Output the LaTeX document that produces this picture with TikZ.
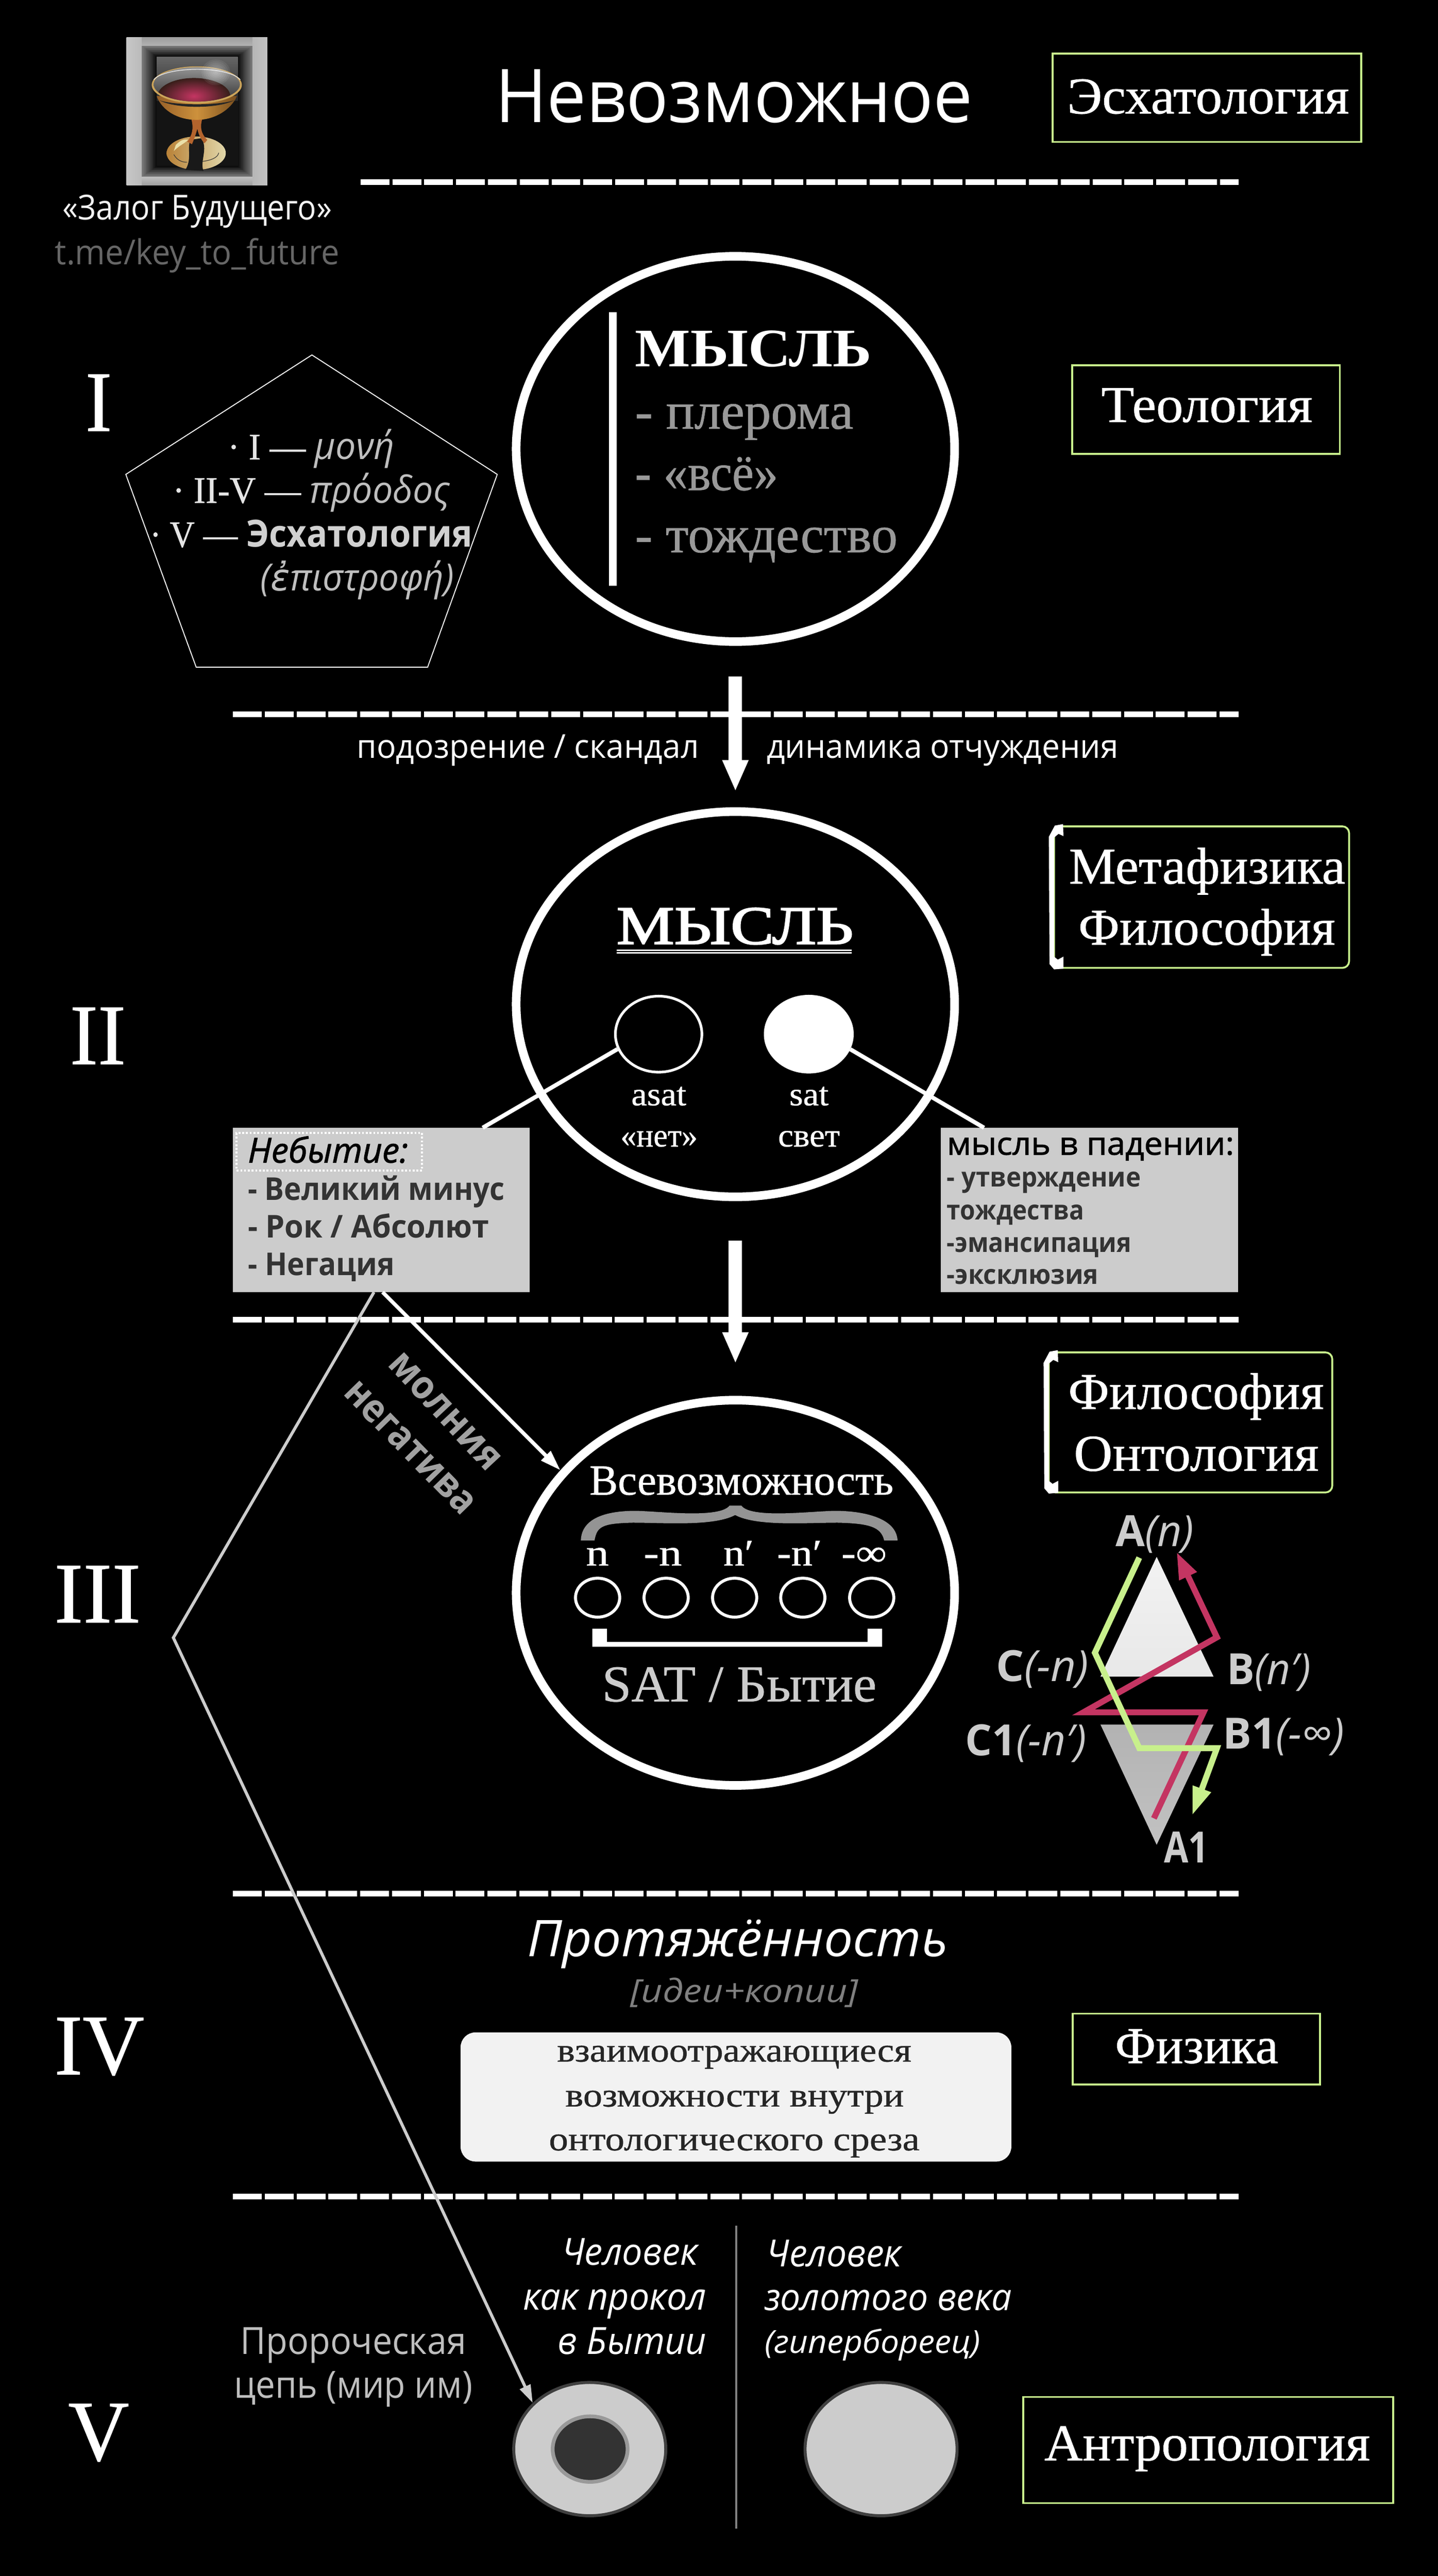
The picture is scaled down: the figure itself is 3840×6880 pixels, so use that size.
\documentclass[tikz,border=0pt]{standalone}
\usepackage{fontspec}
\usepackage{graphicx}
\usetikzlibrary{arrows.meta,shapes.geometric,calc}
\setmainfont[FakeBold=0.7,BoldFeatures={FakeBold=0}]{Liberation Serif}
\setsansfont{Open Sans}
\newfontfamily\semib[FakeBold=1.6]{Open Sans}
\newfontfamily\grk{DejaVu Sans}
\newfontfamily\serifheavy[FakeBold=2.2]{Liberation Serif}
\definecolor{lime}{HTML}{C8F08C}
\definecolor{wine}{HTML}{C43562}
\definecolor{panel}{HTML}{CCCCCC}
\definecolor{inkd}{HTML}{333333}
\newsavebox\fitbox
\newcommand{\fitw}[2]{\sbox\fitbox{#2}\pgfmathsetmacro\fitr{#1/\the\wd\fitbox}\scalebox{\fitr}[1]{\usebox\fitbox}}
\newcommand{\SE}[1]{\rmfamily\fontsize{#1}{#1}\selectfont}
\newcommand{\SA}[1]{\sffamily\fontsize{#1}{#1}\selectfont}
\newcommand{\SB}[1]{\semib\fontsize{#1}{#1}\selectfont}
\newcommand{\lbl}[6][]{\node[lab,#1] (#2) at (#3,#4) {\fitw{#5}{#6}};}
\newcommand{\wbracket}[3]{\fill[white] (#1,#2+30) -- (#1+16,#2) -- (#1+38,#2-4) -- (#1+39,#2+28) -- (#1+26,#2+22) -- (#1+14,#2+32) -- (#1+14,#3-30) -- (#1+24,#3-22) -- (#1+39,#3-30) -- (#1+39,#3+2) -- (#1+14,#3+4) -- (#1+2,#3-10) -- cycle;}
\tikzset{
  lab/.style={anchor=base west,inner sep=0pt,outer sep=0pt,text=white},
  bigell/.style={ellipse,draw=white,line width=23pt,inner sep=0pt,minimum width=1171pt,minimum height=1029pt},
  subj/.style={draw=lime,line width=5pt,anchor=north west,inner sep=0pt,outer sep=0pt},
  subjr/.style={subj,rounded corners=18pt},
  panelbox/.style={fill=panel,anchor=north west,inner sep=0pt,outer sep=0pt},
  dashln/.style={white,line width=15pt,dash pattern=on 77pt off 8pt},
  down/.style={white,line width=36pt,-{Triangle[length=84pt,width=64pt]}},
  stalk/.style={white,line width=11pt},
  tiny/.style={ellipse,draw=white,line width=8pt,inner sep=0pt,minimum width=118pt,minimum height=104pt},
  human/.style={ellipse,fill=panel,draw=black!75,line width=8pt,inner sep=0pt,minimum width=406pt,minimum height=356pt},
}
\begin{document}
\begin{tikzpicture}[x=1pt,y=-1pt]
\useasboundingbox (0,0) rectangle (3840,6880);
\fill[black] (0,0) rectangle (3840,6880);
% goblet picture
\shade[left color=black!22,right color=black!24,middle color=black!45] (338,100) rectangle (714,495);
\shade[top color=black!38,bottom color=black!30] (379,100) rectangle (674,122);
\shade[top color=black!25,bottom color=black!38] (379,472) rectangle (674,495);
\begin{scope}[shift={(250,50)},x=0.5102pt,y=-0.4591pt]
\foreach \i in {0,...,15}{
  \pgfmathsetmacro\gv{52+\i*2.95}
  \fill[black!\gv] ({252+\i*5},{158+\i*4}) rectangle ({832-\i*5},{920-\i*4});
}
\shade[top color=black!60,bottom color=black!92] (330,222) rectangle (755,560);
\fill[black!92] (330,480) rectangle (755,856);
% foot
\shade[left color={rgb,255:red,185;green,130;blue,55},right color={rgb,255:red,225;green,215;blue,170}] (537,782) ellipse [x radius=155,y radius=97];
\fill[color={rgb,255:red,235;green,225;blue,170}] (430,735) .. controls (460,700) and (480,700) .. (495,705) .. controls (470,730) and (445,740) .. (420,770) -- cycle;
\fill[black!90] (505,705) .. controls (490,760) and (515,820) .. (480,880) -- (575,885) .. controls (555,830) and (600,760) .. (565,695) -- cycle;
\draw[black!80,line width=1.5pt] (420,790) .. controls (440,830) and (470,835) .. (490,835);
\draw[black!80,line width=1.5pt] (570,830) .. controls (610,825) and (650,810) .. (655,780);
% stem
\fill[color={rgb,255:red,180;green,100;blue,45}] (512,585) .. controls (525,640) and (515,680) .. (490,715) -- (515,730) .. controls (530,690) and (538,660) .. (543,640) .. controls (550,680) and (565,705) .. (580,725) -- (595,705) .. controls (555,660) and (560,620) .. (568,585) -- cycle;
% bowl
\shade[left color={rgb,255:red,150;green,95;blue,40},right color={rgb,255:red,120;green,78;blue,30},middle color={rgb,255:red,205;green,145;blue,60}] (330,450) .. controls (360,540) and (450,590) .. (540,588) .. controls (630,590) and (720,530) .. (750,450) -- cycle;
\fill[black!85] (345,475) .. controls (430,525) and (650,525) .. (735,475) .. controls (650,505) and (430,505) .. (345,475) -- cycle;
% rim
\fill[color={rgb,255:red,205;green,165;blue,90}] (540,385) ellipse [x radius=236,y radius=108];
\shade[top color=black!42,bottom color=black!80] (540,382) ellipse [x radius=226,y radius=100];
\begin{scope}
\clip (540,382) ellipse [x radius=226,y radius=100];
\shade[inner color=wine,outer color={rgb,255:red,55;green,30;blue,25}] (525,450) ellipse [x radius=190,y radius=105];
\end{scope}
\draw[black!10,line width=2pt] (315,355) .. controls (370,278) and (700,270) .. (768,355);
\foreach \i in {1,...,8}{\fill[white,opacity=.07] (640,312) circle [radius=85-\i*10];}
\end{scope}
% title
\lbl{title}{1323}{327}{1275}{\SA{198}Невозможное}
\coordinate (d1a) at (963,487); \coordinate (d1b) at (3308,487);
\draw[dashln] (d1a) -- (d1b);
\node[subj,minimum width=824pt,minimum height=236pt] (bxesch) at (2811,143) {};
\lbl{tesch}{2850}{303}{753}{\SE{138}Эсхатология}
\lbl{zalog}{167}{587}{720}{\SA{92}\color{black!5}«Залог Будущего»}
\lbl{link}{147}{706}{760}{\SA{92}\color{black!60}t.me/key\_to\_future}
% Level I
\lbl{numI}{228}{1151}{71}{\SE{230}I}
\draw[white,line width=2.5pt,line join=miter] (833,948) -- (1328,1267) -- (1142,1782) -- (524,1782) -- (336,1267) -- cycle;
\lbl{pa}{608}{1227}{446}{\SE{100}\color{black!10}· I — \textcolor{black!25}{\SA{100}\itshape μονή}}
\lbl{pb}{461}{1343}{740}{\SE{100}\color{black!10}· II-V — \textcolor{black!25}{\SA{100}\itshape πρόοδος}}
\lbl{pc}{400}{1461}{862}{\SE{100}\color{black!10}· V — \textcolor{black!18}{\SA{100}\bfseries Эсхатология}}
\lbl{pd}{696}{1578}{517}{\SA{100}\itshape\color{black!25}({\grk ἐ}πιστροφή)}
\node[bigell] (e1) at (1964,1199) {};
\fill[white] (1627,834) rectangle (1647,1564);
\lbl{m1}{1696}{979}{632}{\SE{145}\bfseries МЫСЛЬ}
\lbl{m1a}{1696}{1145}{583}{\SE{140}\color{black!40}- плерома}
\lbl{m1b}{1696}{1309}{382}{\SE{140}\color{black!40}- «всё»}
\lbl{m1c}{1696}{1475}{701}{\SE{140}\color{black!40}- тождество}
\node[subj,minimum width=715pt,minimum height=236pt] (bxteo) at (2863,976) {};
\lbl{tteo}{2941}{1127}{564}{\SE{138}Теология}
\coordinate (d2a) at (622,1908); \coordinate (d2b) at (3308,1908);
\draw[dashln] (d2a) -- (d2b);
\lbl{susp}{953}{2025}{914}{\SA{88}подозрение / скандал}
\lbl{dyn}{2048}{2025}{939}{\SA{88}динамика отчуждения}
% Level II
\lbl{numII}{187}{2842}{149}{\SE{230}II}
\node[bigell] (e2) at (1964,2682) {};
\draw[down,shorten <=81pt,shorten >=42pt] (e1.south) -- (e2.north);
\lbl{m2}{1647}{2521}{632}{\serifheavy\fontsize{145}{145}\selectfont МЫСЛЬ}
\draw[white,line width=3pt] (1647,2538) -- (2274,2538);
\draw[white,line width=3pt] (1647,2545) -- (2274,2545);
\node[ellipse,draw=white,line width=7pt,inner sep=0pt,minimum width=231pt,minimum height=203pt] (asat) at (1759,2762) {};
\node[ellipse,fill=white,draw=white,line width=7pt,inner sep=0pt,minimum width=233pt,minimum height=203pt] (sat) at (2160,2762) {};
\lbl{tasat}{1686}{2952}{147}{\SE{88}asat}
\lbl{tsat}{2108}{2952}{105}{\SE{88}sat}
\lbl{tnet}{1657}{3062}{206}{\SE{88}«нет»}
\lbl{tsvet}{2078}{3062}{165}{\SE{88}свет}
\node[panelbox,minimum width=792pt,minimum height=439pt] (neb) at (622,3012) {};
\node[panelbox,minimum width=794pt,minimum height=439pt] (fall) at (2512,3012) {};
\draw[stalk] (asat.200) -- (neb.39);
\draw[stalk] (sat.340) -- (fall.142);
\node[draw=white,line width=5pt,dash pattern=on 5pt off 5pt,anchor=north west,inner sep=0pt,outer sep=0pt,minimum width=495pt,minimum height=100pt] (nebdot) at (632,3026) {};
\lbl[text=black]{tneb}{662}{3105}{428}{\SB{92}\itshape Небытие:}
\lbl[text=inkd]{nb1}{662}{3205}{686}{\SA{84}\bfseries - Великий минус}
\lbl[text=inkd]{nb2}{662}{3306}{644}{\SA{84}\bfseries - Рок / Абсолют}
\lbl[text=inkd]{nb3}{662}{3406}{392}{\SA{84}\bfseries - Негация}
\lbl[text=black]{tfall}{2529}{3084}{767}{\SB{84}мысль в падении:}
\lbl[text=inkd]{fl1}{2529}{3170}{518}{\SA{72}\bfseries - утверждение}
\lbl[text=inkd]{fl2}{2529}{3258}{366}{\SA{72}\bfseries тождества}
\lbl[text=inkd]{fl3}{2529}{3344}{493}{\SA{72}\bfseries -эмансипация}
\lbl[text=inkd]{fl4}{2529}{3430}{405}{\SA{72}\bfseries -эксклюзия}
\node[subjr,minimum width=788pt,minimum height=378pt] (bxmet) at (2815,2207) {};
\wbracket{2801}{2205}{2585}
\lbl{tmet}{2855}{2360}{738}{\SE{138}Метафизика}
\lbl{tfil}{2880}{2523}{686}{\SE{138}Философия}
\coordinate (d3a) at (622,3524); \coordinate (d3b) at (3308,3524);
\draw[dashln] (d3a) -- (d3b);
% Level III
\lbl{numIII}{145}{4333}{231}{\SE{230}III}
\node[bigell] (e3) at (1964,4254) {};
\draw[down,shorten <=105pt,shorten >=86pt] (e2.south) -- (e3.north);
\draw[white,line width=10pt,-{Triangle[length=55pt,width=34pt]}] (neb.271) -- (e3.145.5);
\node[lab,rotate=-47,text=black!37] (molnia) at (1033,3646) {\fitw{393}{\SA{105}\bfseries молния}};
\node[lab,rotate=-45.7,text=black!37] (negat) at (914,3723) {\fitw{458}{\SA{105}\bfseries негатива}};
\lbl{allp}{1574}{3992}{812}{\SE{115}Всевозможность}
\begin{scope}[shift={(1300,3600)},x=0.8292pt,y=-0.7018pt]
\fill[black!42] (303,733) .. controls (305,650) and (380,620) .. (480,620) .. controls (560,622) and (750,650) .. (782,600) -- (820,600) .. controls (850,650) and (1040,622) .. (1120,620) .. controls (1220,620) and (1320,650) .. (1323,733) -- (1280,733) .. controls (1270,680) and (1230,668) .. (1130,665) .. controls (1030,665) and (870,680) .. (800,636) .. controls (730,680) and (570,665) .. (470,665) .. controls (370,668) and (355,680) .. (347,733) -- cycle;
\end{scope}
\lbl{vn1}{1565}{4181}{61}{\SE{100}n}
\lbl{vn2}{1719}{4181}{102}{\SE{100}-n}
\lbl{vn3}{1932}{4181}{81}{\SE{100}n′}
\lbl{vn4}{2075}{4181}{120}{\SE{100}-n′}
\lbl{vn5}{2247}{4181}{121}{\SE{100}-∞}
\node[tiny] (c1) at (1596,4267) {};
\node[tiny] (c2) at (1779,4267) {};
\node[tiny] (c3) at (1962,4267) {};
\node[tiny] (c4) at (2144,4267) {};
\node[tiny] (c5) at (2328,4267) {};
\fill[white] (1582,4350) -- (1621,4350) -- (1621,4385) -- (2317,4385) -- (2317,4350) -- (2356,4350) -- (2356,4398) -- (1582,4398) -- cycle;
\lbl[text=panel]{sat2}{1608}{4544}{733}{\SE{138}SAT / Бытие}
\node[subjr,minimum width=757pt,minimum height=374pt] (bxont) at (2801,3612) {};
\wbracket{2787}{3610}{3985}
\lbl{tfil2}{2853}{3763}{683}{\SE{138}Философия}
\lbl{tont}{2868}{3928}{654}{\SE{138}Онтология}
% triangles
\shade[top color=black!5,bottom color=black!9] (3089,4158) -- (3241,4478) -- (2939,4478) -- cycle;
\shade[top color=black!30,bottom color=black!24] (2939,4606) -- (3241,4606) -- (3089,4927) -- cycle;
\begin{scope}[shift={(2400,3900)},x=0.8292pt,y=-0.7651pt]
\draw[wine,line width=16pt,line join=miter,-{Triangle[length=72pt,width=48pt]}] (822,1250) -- (982,880) -- (595,880) -- (1025,618) -- (895,320);
\draw[lime,line width=16pt,line join=miter,-{Triangle[length=76pt,width=48pt]}] (775,340) -- (632,672) -- (775,1005) -- (1025,1005) -- (945,1240);
\end{scope}
\lbl[text=panel]{lA}{2980}{4130}{208}{\SA{115}\textbf{A}\itshape(n)}
\lbl[text=panel]{lC}{2661}{4491}{246}{\SA{115}\textbf{C}\itshape(-n)}
\lbl[text=panel]{lB}{3277}{4499}{224}{\SA{115}\textbf{B}\itshape(n′)}
\lbl[text=panel]{lC1}{2578}{4688}{324}{\SA{115}\textbf{C1}\itshape(-n′)}
\lbl[text=panel]{lB1}{3266}{4671}{324}{\SA{115}\textbf{B1}\itshape(-∞)}
\lbl[text=panel]{lA1}{3109}{4975}{119}{\SA{115}\bfseries A1}
\coordinate (d4a) at (622,5058); \coordinate (d4b) at (3308,5058);
\draw[dashln] (d4a) -- (d4b);
% Level IV
\lbl{numIV}{145}{5540}{240}{\SE{230}IV}
\lbl{prot}{1409}{5225}{1123}{\SA{135}\itshape Протяжённость}
\lbl[text=black!50]{idei}{1684}{5348}{608}{\SA{85}\itshape [идеи+копии]}
\node[fill=black!5,rounded corners=40pt,anchor=north west,inner sep=0pt,outer sep=0pt,minimum width=1471pt,minimum height=345pt] (mirror) at (1230,5428) {};
\lbl[text=black!85]{mr1}{1488}{5506}{946}{\SE{90}взаимоотражающиеся}
\lbl[text=black!85]{mr2}{1510}{5626}{904}{\SE{90}возможности внутри}
\lbl[text=black!85]{mr3}{1466}{5743}{990}{\SE{90}онтологического среза}
\node[subj,minimum width=660pt,minimum height=189pt] (bxfiz) at (2865,5378) {};
\lbl{tfiz}{2978}{5510}{436}{\SE{138}Физика}
\coordinate (d5a) at (622,5866); \coordinate (d5b) at (3308,5866);
\draw[dashln] (d5a) -- (d5b);
% Level V
\lbl{numV}{182}{6571}{163}{\SE{230}V}
\coordinate (sepa) at (1966,5944); \coordinate (sepb) at (1966,6753);
\draw[black!50,line width=5pt] (sepa) -- (sepb);
\lbl{hl1}{1500}{6049}{363}{\SA{100}\itshape Человек}
\lbl{hl2}{1397}{6169}{490}{\SA{100}\itshape как прокол}
\lbl{hl3}{1490}{6287}{397}{\SA{100}\itshape в Бытии}
\lbl{hr1}{2047}{6053}{360}{\SA{100}\itshape Человек}
\lbl{hr2}{2042}{6171}{661}{\SA{100}\itshape золотого века}
\lbl{hr3}{2042}{6285}{576}{\SA{85}\itshape (гипербореец)}
\lbl[text=black!25]{pr1}{642}{6287}{603}{\SA{100}Пророческая}
\lbl[text=black!25]{pr2}{625}{6405}{637}{\SA{100}цепь (мир им)}
\node[human] (hL) at (1575,6541) {};
\node[ellipse,fill=black!80,draw=black!40,line width=10pt,inner sep=0pt,minimum width=200pt,minimum height=175pt] (hLin) at (1576,6541) {};
\node[human] (hR) at (2353,6541) {};
\coordinate (bend) at (463,4374);
\draw[panel,line width=8pt,line join=miter,-{Triangle[length=48pt,width=30pt]}] (neb.265) -- (bend) -- (hL.141);
\node[subj,minimum width=988pt,minimum height=283pt] (bxant) at (2733,6402) {};
\lbl{tant}{2789}{6571}{870}{\SE{138}Антропология}
\end{tikzpicture}
\end{document}
